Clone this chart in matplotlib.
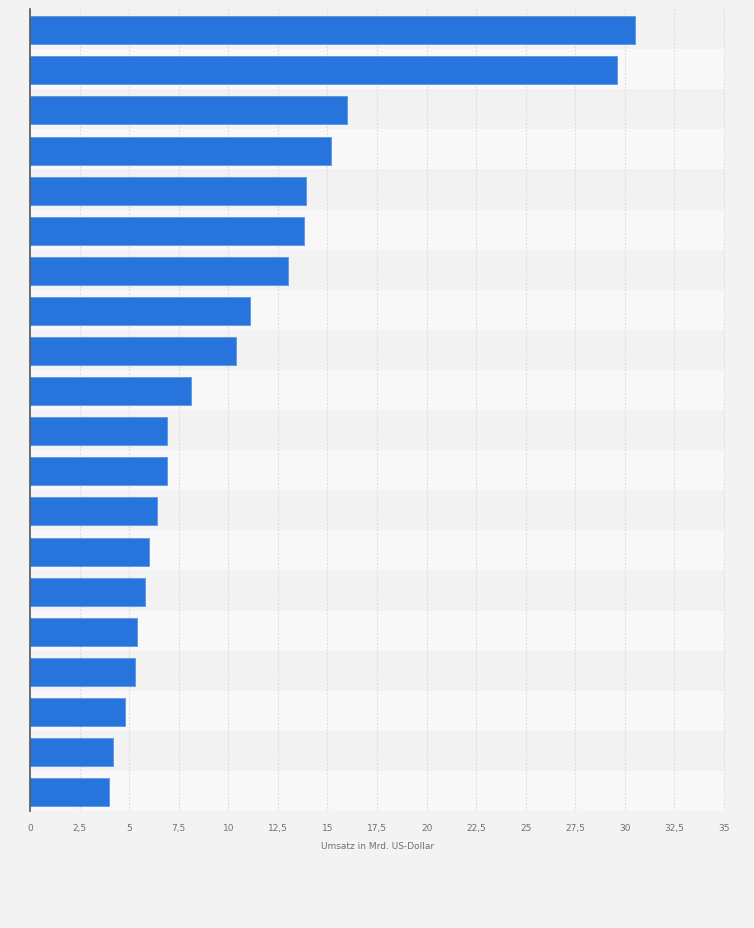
import matplotlib
matplotlib.use("Agg")
import matplotlib.pyplot as plt
import numpy as np

# Umsatz in Mrd. US-Dollar, sortiert (oben = größter Wert)
values = [30.5, 29.6, 16.0, 15.2, 13.9, 13.8, 13.0, 11.1, 10.4, 8.1,
          6.9, 6.9, 6.4, 6.0, 5.8, 5.4, 5.3, 4.8, 4.2, 4.0]
x_ticks = [0, 2.5, 5, 7.5, 10, 12.5, 15, 17.5, 20, 22.5, 25, 27.5, 30, 32.5, 35]
x_label = "Umsatz in Mrd. US-Dollar"

bar_color = "#2775dc"
bg_color = "#f3f3f3"

fig = plt.figure(figsize=(7.54, 9.29), dpi=100, facecolor=bg_color)
ax = fig.add_axes([30 / 754, 1 - 812 / 929, 695 / 754, 802 / 929])
ax.set_facecolor(bg_color)

n = len(values)
y = np.arange(n)

# abwechselnde Hintergrundstreifen
for i in range(n):
    ax.axhspan(i - 0.5, i + 0.5, color="#f2f2f2" if i % 2 == 0 else "#f8f8f8",
               zorder=0, linewidth=0)

# gepunktete vertikale Gitterlinien
for t in x_ticks[1:]:
    ax.axvline(t, color="#dcdcdc", linestyle=(0, (1.5, 1.5)), linewidth=0.8, zorder=1)

ax.barh(y + 0.03, values, height=0.7, color=bar_color, edgecolor="#5a96e6",
        linewidth=0.6, zorder=2)

ax.set_xlim(0, 35.05)
ax.set_ylim(n - 0.5, -0.5)

ax.set_xticks(x_ticks)
ax.set_xticklabels([f"{t:g}".replace(".", ",") for t in x_ticks],
                   fontsize=6.5, color="#707070")
ax.tick_params(axis="x", length=0, pad=9)
ax.set_yticks([])

ax.set_xlabel(x_label, fontsize=6.5, color="#707070", labelpad=6)

for side in ["top", "right", "bottom"]:
    ax.spines[side].set_visible(False)
ax.spines["left"].set_color("#555555")
ax.spines["left"].set_linewidth(1.2)
ax.spines["left"].set_zorder(3)

fig.savefig("out.png", dpi=100, facecolor=bg_color)
